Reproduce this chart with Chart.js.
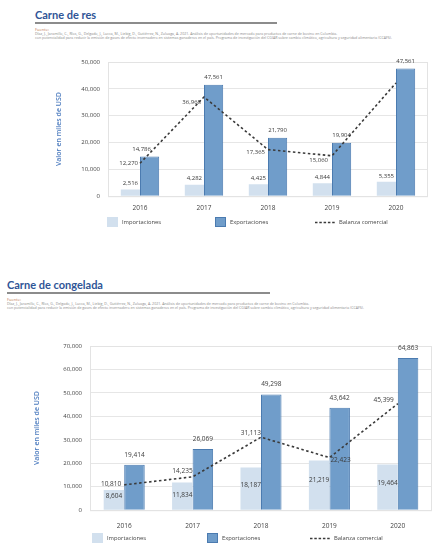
<!DOCTYPE html>
<html lang="es">
<head>
<meta charset="utf-8">
<title>Carne de res / Carne de congelada</title>
<script src="https://cdn.jsdelivr.net/npm/chart.js@4.4.1/dist/chart.umd.min.js"></script>
<style>
  html, body { margin: 0; padding: 0; background: #fff; }
  body { width: 435px; height: 543px; position: relative; overflow: hidden; font-family: "Open Sans", sans-serif; }
  .title { position: absolute; font-family: Lato, "Open Sans", sans-serif; font-weight: 700; font-size: 11px; color: #2f5597; }
  .rule { position: absolute; height: 2px; background: #8c8c8c; }
  .src { position: absolute; font-size: 3.6px; line-height: 4px; color: #8a8a8a; white-space: nowrap; }
  .src b { color: #c07a50; font-weight: 400; font-size: 4px; }
  .box { position: absolute; left: 0; width: 435px; }
</style>
</head>
<body>
<div class="title" style="left:35px; top:8px;">Carne de res</div>
<div class="rule" style="left:35px; top:22px; width:242px;"></div>
<div class="src" style="left:35px; top:28px;"><b>Fuente:</b><br>
Díaz, J., Jaramillo, C., Ríos, G., Delgado, J., Lucca, M., Liebig, D., Gutiérrez, N., Zuluaga, A. 2021. Análisis de oportunidades de mercado para productos de carne de bovino en Colombia.<br>
con potencialidad para reducir la emisión de gases de efecto invernadero en sistemas ganaderos en el país. Programa de investigación del CGIAR sobre cambio climático, agricultura y seguridad alimentaria (CCAFS).</div>
<div class="box" style="top:48px; height:186px;"><canvas id="resChart"></canvas></div>

<div class="title" style="left:7px; top:278px;">Carne de congelada</div>
<div class="rule" style="left:7px; top:292px; width:263px;"></div>
<div class="src" style="left:7px; top:298px;"><b>Fuente:</b><br>
Díaz, J., Jaramillo, C., Ríos, G., Delgado, J., Lucca, M., Liebig, D., Gutiérrez, N., Zuluaga, A. 2021. Análisis de oportunidades de mercado para productos de carne de bovino en Colombia.<br>
con potencialidad para reducir la emisión de gases de efecto invernadero en sistemas ganaderos en el país. Programa de investigación del CGIAR sobre cambio climático, agricultura y seguridad alimentaria (CCAFS).</div>
<div class="box" style="top:330px; height:213px;"><canvas id="congChart"></canvas></div>

<script>
// Data
const years = ["2016", "2017", "2018", "2019", "2020"];

// Carne de res
const resImports = [2516, 4282, 4425, 4844, 5355];
const resExports = [14786, 41561, 21790, 19904, 47561];
const resBalance = [12270, 36968, 17365, 15060, 42206];
// printed labels (2017 export label differs from the drawn bar; 2020 balance has no label)
const resExportText = ["14,786", "47,561", "21,790", "19,904", "47,561"];
const resBalanceText = ["12,270", "36,968", "17,365", "15,060", ""];

// Carne de congelada
const congImports = [8604, 11834, 18187, 21219, 19464];
const congExports = [19414, 26069, 49298, 43642, 64863];
const congBalance = [10810, 14235, 31113, 22423, 45399];

// Tick labels
const resTicks = [0, 10000, 20000, 30000, 40000, 50000];
const congTicks = [0, 10000, 20000, 30000, 40000, 50000, 60000, 70000];

const fmt = (v) => v.toLocaleString("en-US");

const IMP_COLOR = "#d2e0ee";
const EXP_COLOR = "#709dca";
const EXP_BORDER = "#4b7bb0";
const LINE_COLOR = "#3a3a3a";
const AXIS_BLUE = "#4d7cbf";

// Plugin: value labels drawn next to bars / points
const valueLabels = {
  id: "valueLabels",
  afterDatasetsDraw(chart) {
    const cfg = chart.options.plugins.valueLabels;
    if (!cfg) return;
    const ctx = chart.ctx;
    ctx.save();
    ctx.font = cfg.font;
    ctx.fillStyle = "#3b3b3b";
    cfg.sets.forEach((set, di) => {
      const meta = chart.getDatasetMeta(di);
      meta.data.forEach((el, i) => {
        const text = set.text[i];
        if (!text) return;
        const p = set.pos[i] || set.pos[0];
        ctx.textAlign = p.align || "center";
        ctx.textBaseline = "middle";
        ctx.fillText(text, el.x + (p.dx || 0), el.y + (p.dy || 0));
      });
    });
    ctx.restore();
  },
};

// Plugin: thin frame round the plot area
const plotFrame = {
  id: "plotFrame",
  beforeDatasetsDraw(chart) {
    const a = chart.chartArea;
    const ctx = chart.ctx;
    ctx.save();
    ctx.strokeStyle = "#e3e3e3";
    ctx.lineWidth = 1;
    ctx.strokeRect(a.left + 0.5, a.top + 0.5, a.right - a.left - 1, a.bottom - a.top);
    ctx.restore();
  },
};

// Plugin: legend row at the bottom (swatches for bars, dashed line for balance)
const bottomLegend = {
  id: "bottomLegend",
  afterDraw(chart) {
    const cfg = chart.options.plugins.bottomLegend;
    if (!cfg) return;
    const ctx = chart.ctx;
    ctx.save();
    ctx.font = "5.8px 'Open Sans'";
    ctx.textBaseline = "middle";
    ctx.textAlign = "left";
    chart.data.datasets.forEach((ds, i) => {
      const x = cfg.xs[i];
      const y = cfg.y;
      if (ds.type === "line") {
        ctx.strokeStyle = LINE_COLOR;
        ctx.lineWidth = 1.4;
        ctx.setLineDash([2.5, 1.8]);
        ctx.beginPath();
        ctx.moveTo(x, y + 0.5);
        ctx.lineTo(x + 21, y + 0.5);
        ctx.stroke();
        ctx.setLineDash([]);
        ctx.fillStyle = "#444";
        ctx.fillText(ds.label, x + 24, y);
      } else {
        ctx.fillStyle = ds.backgroundColor;
        ctx.fillRect(x, y - 5, 11, 10);
        if (ds.borderWidth) {
          ctx.strokeStyle = ds.borderColor;
          ctx.lineWidth = 1;
          ctx.strokeRect(x + 0.5, y - 4.5, 10, 9);
        }
        ctx.fillStyle = "#444";
        ctx.fillText(ds.label, x + 15, y);
      }
    });
    ctx.restore();
  },
};

function buildChart(id, imports, exports, balance, ticks, opts) {
  const ctx = document.getElementById(id).getContext("2d");
  return new Chart(ctx, {
    type: "bar",
    data: {
      labels: years,
      datasets: [
        {
          label: "Importaciones",
          data: imports,
          backgroundColor: IMP_COLOR,
          borderWidth: 0,
          categoryPercentage: 0.6,
          barPercentage: 1.0,
          order: 2,
        },
        {
          label: "Exportaciones",
          data: exports,
          backgroundColor: EXP_COLOR,
          borderColor: EXP_BORDER,
          borderWidth: 1,
          categoryPercentage: 0.6,
          barPercentage: 1.0,
          order: 2,
        },
        {
          type: "line",
          label: "Balanza comercial",
          data: balance,
          borderColor: LINE_COLOR,
          backgroundColor: LINE_COLOR,
          borderWidth: 1.6,
          borderDash: [2.5, 2.5],
          pointRadius: 0,
          tension: 0,
          order: 1,
        },
      ],
    },
    options: {
      responsive: true,
      maintainAspectRatio: false,
      animation: false,
      layout: { padding: opts.padding },
      scales: {
        x: {
          grid: { display: false, drawTicks: false },
          border: { display: false },
          ticks: { color: "#444", font: { family: "Open Sans", size: 6.5 }, padding: opts.xPad },
        },
        y: {
          min: 0,
          max: ticks[ticks.length - 1],
          afterBuildTicks: (scale) => {
            scale.ticks = ticks.map((v) => ({ value: v }));
          },
          afterFit: (scale) => {
            scale.width = opts.yWidth;
          },
          grid: { color: "#e6e6e6", lineWidth: 1, drawTicks: false },
          border: { display: false },
          ticks: {
            color: "#444",
            font: { family: "Open Sans", size: 6 },
            padding: 8,
            callback: (v) => fmt(v),
          },
          title: {
            display: true,
            text: "Valor en miles de USD",
            color: AXIS_BLUE,
            font: { family: "Open Sans", size: 7, weight: "600" },
            padding: { top: 0, bottom: opts.titleGap },
          },
        },
      },
      plugins: {
        legend: { display: false },
        tooltip: { enabled: false },
        bottomLegend: opts.legend,
        valueLabels: opts.labels,
      },
    },
    plugins: [plotFrame, valueLabels, bottomLegend],
  });
}

// Carne de res
buildChart("resChart", resImports, resExports, resBalance, resTicks, {
  padding: { left: 55, right: 7, top: 14, bottom: 14 },
  yWidth: 53,
  titleGap: 12,
  xPad: 8,
  legend: { y: 174, xs: [107, 215, 315] },
  labels: {
    font: "6px 'Open Sans'",
    sets: [
      { text: resImports.map(fmt), pos: [{ dy: -6 }] },
      { text: resExportText, pos: [{ dx: -8, dy: -7 }, { dy: -7 }, { dy: -7 }, { dy: -7 }, { dy: -7 }] },
      {
        text: resBalanceText,
        pos: [
          { align: "right", dx: -2, dy: 0 },
          { align: "right", dx: -3, dy: 5 },
          { align: "right", dx: -3, dy: 3 },
          { align: "right", dx: -4, dy: 5 },
        ],
      },
    ],
  },
});

// Carne de congelada
buildChart("congChart", congImports, congExports, congBalance, congTicks, {
  padding: { left: 33, right: 3, top: 16, bottom: 1 },
  yWidth: 57,
  titleGap: 16,
  xPad: 12,
  legend: { y: 208, xs: [92, 207, 310] },
  labels: {
    font: "6.5px 'Open Sans'",
    sets: [
      {
        text: congImports.map(fmt),
        pos: [{ dy: 6 }, { dy: 13 }, { dy: 18 }, { dy: 20 }, { dy: 19 }],
      },
      { text: congExports.map(fmt), pos: [{ dy: -10 }] },
      {
        text: congBalance.map(fmt),
        pos: [
          { align: "right", dx: -3, dy: -1 },
          { align: "right", dx: 0, dy: -6 },
          { align: "right", dx: 0, dy: -4 },
          { align: "left", dx: 1, dy: 3 },
          { align: "right", dx: -4, dy: -4 },
        ],
      },
    ],
  },
});
</script>
</body>
</html>
